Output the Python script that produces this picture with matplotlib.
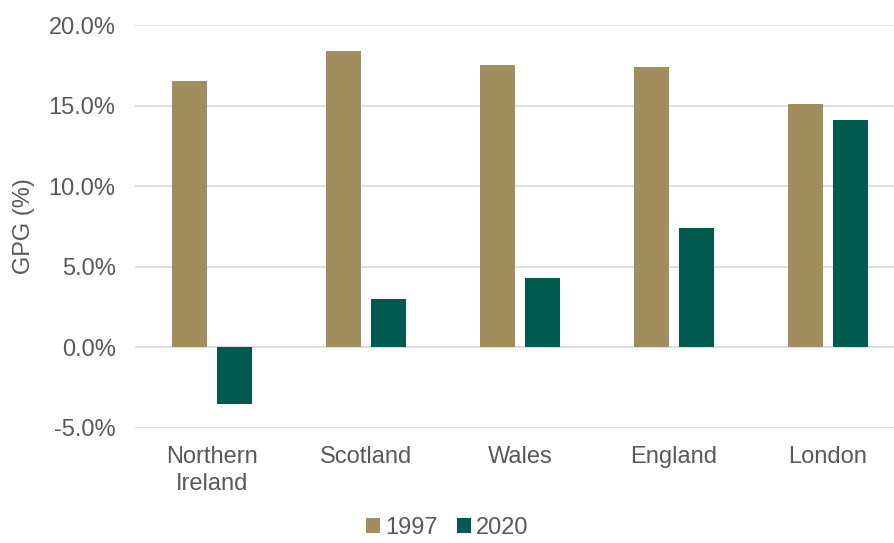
import matplotlib

matplotlib.use("Agg")
from matplotlib import pyplot as plt
from matplotlib.ticker import FuncFormatter
import numpy as np

regions = ["Northern\nIreland", "Scotland", "Wales", "England", "London"]
gpg_1997 = [16.5, 18.4, 17.5, 17.4, 15.1]
gpg_2020 = [-3.5, 3.0, 4.3, 7.4, 14.1]

plt.rcParams["font.family"] = ["Liberation Sans", "DejaVu Sans"]
text_color = "#595959"
font_size = 17

figure = plt.figure(figsize=(8.94, 5.43), dpi=100)
axis = figure.add_axes([135 / 894, 1 - 428 / 543, 770 / 894, (428 - 25) / 543])

x = np.arange(len(regions))
width = 0.227
offset = 0.143
axis.bar(x - offset, gpg_1997, width, color="#a28d5f", label="1997", zorder=3)
axis.bar(x + offset, gpg_2020, width, color="#005a4e", label="2020", zorder=3)

axis.set_xlim(-0.5, len(regions) - 0.5)
axis.set_ylim(-5, 20)
axis.set_yticks(np.arange(-5, 20.1, 5))
axis.yaxis.set_major_formatter(FuncFormatter(lambda value, _: f"{value:.1f}%"))
axis.set_xticks(x)
axis.set_xticklabels(regions)
axis.tick_params(length=0, labelsize=font_size, colors=text_color)
axis.tick_params(axis="y", pad=14)
axis.tick_params(axis="x", pad=13)
for label in axis.get_xticklabels():
    label.set_linespacing(1.3)
axis.set_ylabel("GPG (%)", fontsize=font_size, color=text_color, labelpad=10)
axis.grid(axis="y", color="#d9d9d9", linewidth=1.2, zorder=0)
for spine in axis.spines.values():
    spine.set_visible(False)

legend = figure.legend(
    loc="lower center",
    bbox_to_anchor=(0.5, -0.032),
    ncol=2,
    frameon=False,
    fontsize=font_size,
    handlelength=0.6,
    handleheight=0.6,
    handletextpad=0.2,
    columnspacing=0.8,
)
for text in legend.get_texts():
    text.set_color(text_color)

figure.savefig("out.png", dpi=100)
